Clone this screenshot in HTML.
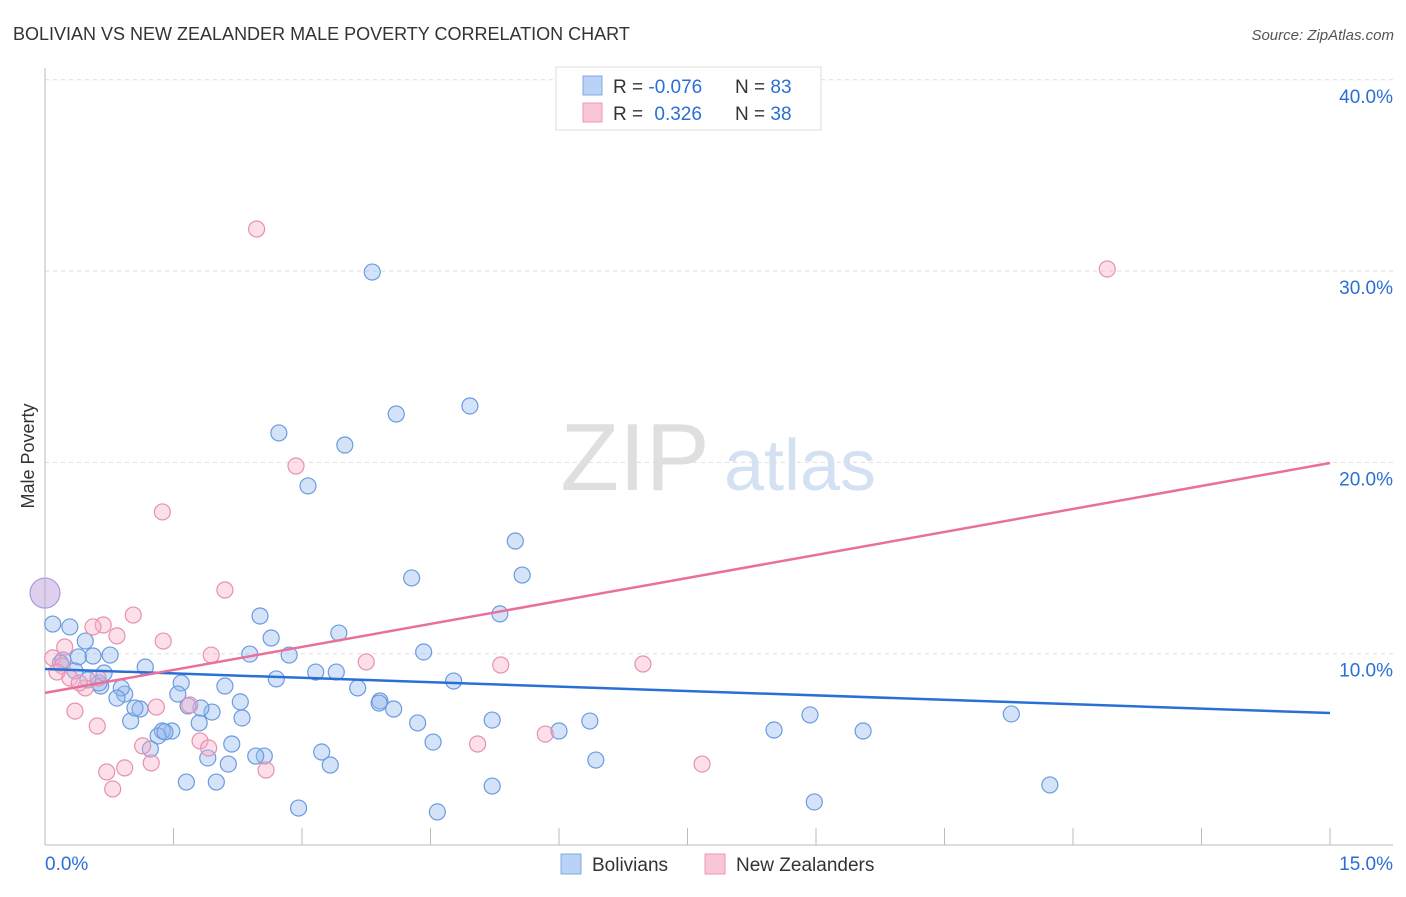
<!DOCTYPE html>
<html><head><meta charset="utf-8"><style>
body{margin:0;background:#fff;font-family:"Liberation Sans",sans-serif;}
svg text{font-family:"Liberation Sans",sans-serif;}
</style></head><body>
<svg id="chart" width="1406" height="892" xmlns="http://www.w3.org/2000/svg">
<text x="13" y="40" font-size="18" fill="#333">BOLIVIAN VS NEW ZEALANDER MALE POVERTY CORRELATION CHART</text>
<text x="1394" y="40" font-size="15" fill="#555" font-style="italic" text-anchor="end">Source: ZipAtlas.com</text>
<text transform="translate(34,456) rotate(-90)" font-size="18" fill="#333" text-anchor="middle">Male Poverty</text>
<g>
<text x="635" y="490" font-size="96" fill="#d8d8d8" font-family="Liberation Serif" text-anchor="middle" opacity="0.8">ZIP</text>
<text x="800" y="490" font-size="72" fill="#c9daf0" text-anchor="middle" opacity="0.8">atlas</text>
</g>
<g id="grid"></g><g id="axes"></g><g id="pts"></g><g id="lines"></g>
<g>
<rect x="556" y="67" width="265" height="63" fill="#fff" stroke="#ddd"/>
<rect x="583" y="76" width="19" height="19" fill="#b9d2f5" stroke="#7ea8e6"/>
<rect x="583" y="103" width="19" height="19" fill="#f9c6d6" stroke="#eb9ab6"/>
<text x="613" y="93" font-size="19" fill="#333">R = <tspan fill="#2a6fd6">-0.076</tspan></text>
<text x="735" y="93" font-size="19" fill="#333">N = <tspan fill="#2a6fd6">83</tspan></text>
<text x="613" y="120" font-size="19" fill="#333">R =  <tspan fill="#2a6fd6" dx="6">0.326</tspan></text>
<text x="735" y="120" font-size="19" fill="#333">N = <tspan fill="#2a6fd6">38</tspan></text>
</g>
<g>
<rect x="561" y="854" width="20" height="20" fill="#b9d2f5" stroke="#7ea8e6"/>
<text x="592" y="871" font-size="19" fill="#333">Bolivians</text>
<rect x="705" y="854" width="20" height="20" fill="#f9c6d6" stroke="#eb9ab6"/>
<text x="736" y="871" font-size="19" fill="#333">New Zealanders</text>
</g>
</svg>
<script>
const blueX=[3.82,4.96,4.10,2.73,3.50,3.07,5.49,4.28,5.57,5.31,2.51,2.64,3.43,4.42,2.39,2.85,3.16,3.40,2.70,3.65,4.77,3.91,3.90,4.07,4.35,5.22,6.36,4.53,6.00,6.43,8.51,8.93,9.55,11.28,11.73,8.98,5.22,4.58,2.96,3.23,3.33,2.56,2.46,2.18,2.14,2.30,2.28,2.10,1.95,1.80,1.82,1.67,1.59,1.55,1.90,2.00,1.65,1.48,1.37,1.32,1.23,1.17,1.00,1.11,1.05,0.93,0.89,0.84,0.76,0.65,0.63,0.56,0.47,0.39,0.29,0.18,0.09,0.35,0.69,0.21,0.50,1.40];
const blueY=[29.95,22.95,22.53,21.54,20.91,18.77,15.89,13.96,14.11,12.08,11.97,10.82,11.08,10.09,9.98,9.93,9.04,9.04,8.68,8.21,8.57,7.53,7.42,7.11,6.38,6.53,6.48,5.38,5.96,4.44,6.01,6.80,5.96,6.85,3.14,2.25,3.08,1.73,1.93,4.86,4.18,4.65,4.65,5.28,4.23,6.64,7.48,8.31,6.95,6.38,7.16,7.27,8.47,7.89,4.55,3.29,3.29,5.96,5.96,5.70,5.02,9.30,6.48,7.11,7.16,7.89,8.21,7.68,9.93,8.31,8.47,9.88,10.66,9.83,11.40,9.51,11.55,9.10,8.99,9.67,8.63,5.91];
const pinkX=[2.47,12.40,2.93,1.37,2.10,1.03,0.68,0.84,0.56,1.38,1.94,0.23,0.09,0.20,0.14,0.29,0.47,0.40,0.62,3.75,5.32,6.98,0.35,0.61,1.30,1.69,1.81,1.91,1.14,1.24,0.93,0.72,0.79,2.58,5.05,5.84,7.67];
const pinkY=[32.2,30.11,19.81,17.41,13.33,12.02,11.50,10.93,11.40,10.66,9.93,10.35,9.78,9.36,9.04,8.73,8.21,8.47,8.73,9.57,9.41,9.46,7.00,6.22,7.21,7.32,5.44,5.07,5.18,4.29,4.03,3.82,2.93,3.92,5.28,5.80,4.23];
const bigPoint=[0,13.17];
const blueTrend=[9.20,6.90];
const pinkTrend=[7.95,19.97];
const yTicks=[10,20,30,40];
const xTicks=[0,1.5,3,4.5,6,7.5,9,10.5,12,13.5,15];
const NS='http://www.w3.org/2000/svg';
const sx=v=>45+v/15*1285, sy=v=>845-v*19.13;
function mk(p,t,a){const e=document.createElementNS(NS,t);for(const k in a)e.setAttribute(k,a[k]);document.getElementById(p).appendChild(e);return e;}
yTicks.forEach(t=>{
 const l=mk('grid','line',{x1:45,x2:1393,y1:sy(t),y2:sy(t),stroke:'#ddd','stroke-dasharray':'4,4'});
 
 
 const tx=mk('grid','text',{x:1393,y:sy(t)+23,'font-size':19,fill:'#2a6fd6','text-anchor':'end'});
 tx.textContent=t.toFixed(1)+'%';
 
 
});
let ax=mk('axes','line',{x1:45,x2:45,y1:68,y2:845,stroke:'#bbb'});


ax=mk('axes','line',{x1:45,x2:1393,y1:845,y2:845,stroke:'#bbb'});


xTicks.forEach(t=>{
 const l=mk('axes','line',{x1:sx(t),x2:sx(t),y1:828,y2:845,stroke:'#bbb'});
 
 
});
[[0,'0.0%','start',45],[15,'15.0%','end',1393]].forEach(d=>{
 const tx=mk('axes','text',{x:d[3],y:870,'font-size':19,fill:'#2a6fd6','text-anchor':d[2]});
 tx.textContent=d[1];
 
 
});
blueX.forEach((x,i)=>{
 const c=mk('pts','circle',{cx:sx(x),cy:sy(blueY[i]),r:8,fill:'rgba(150,185,240,0.4)',stroke:'#6a9be0','stroke-width':1.2});
 
 
});
pinkX.forEach((x,i)=>{
 const c=mk('pts','circle',{cx:sx(x),cy:sy(pinkY[i]),r:8,fill:'rgba(248,175,200,0.4)',stroke:'#e890b0','stroke-width':1.2});
 
 
});
let b=mk('pts','circle',{cx:sx(bigPoint[0]),cy:sy(bigPoint[1]),r:15,fill:'rgba(190,160,220,0.5)',stroke:'#a99ae0','stroke-width':1.2});


let tl=mk('lines','line',{x1:sx(0),y1:sy(blueTrend[0]),x2:sx(15),y2:sy(blueTrend[1]),stroke:'#2a6fd6','stroke-width':2.5});


tl=mk('lines','line',{x1:sx(0),y1:sy(pinkTrend[0]),x2:sx(15),y2:sy(pinkTrend[1]),stroke:'#e8709a','stroke-width':2.5});


</script>
</body></html>
